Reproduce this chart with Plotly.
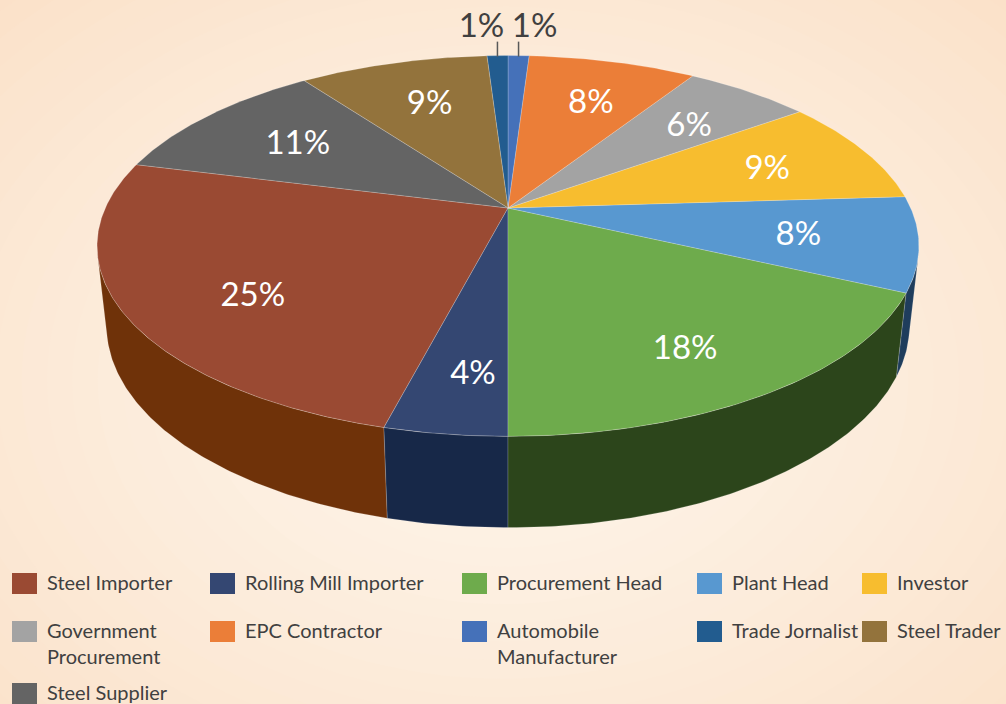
import numpy as np
import plotly.graph_objects as go

# ---------------- data ----------------
categories = ["Steel Importer", "Rolling Mill Importer", "Procurement Head", "Plant Head",
              "Investor", "Government Procurement", "EPC Contractor", "Automobile Manufacturer",
              "Trade Jornalist", "Steel Trader", "Steel Supplier"]
shares = [25, 4, 18, 8, 9, 6, 8, 1, 1, 9, 11]
legend_text = ["Steel Importer", "Rolling Mill Importer", "Procurement Head", "Plant Head",
               "Investor", "Government<br>Procurement", "EPC Contractor", "Automobile<br>Manufacturer",
               "Trade Jornalist", "Steel Trader", "Steel Supplier"]

# ---------------- styles ----------------
top_colors = ["#9A4A33", "#344772", "#6EAB4C", "#5898D0", "#F7BD2F", "#A3A3A3",
              "#EB7E38", "#4571B9", "#225C8F", "#93733C", "#646464"]
side_colors = ["#6F3209", "#172848", "#2C451B", "#1F3D5C", "#8A6A12", "#5A5A5A",
               "#8A4516", "#233F73", "#143552", "#5A4620", "#3A3A3A"]
FONT = "Lato"
TEXT_GREY = "#404040"

W, H = 1006, 704
# 3-D projection of the pie (pixel space)
CX, CY = 508.0, 208.0
FOCAL = 1800.0
CAM_DIST = 4.47
TILT = np.radians(27.0)
THICK = 0.224
ANCHOR_CAT = "Trade Jornalist"   # this slice starts at 12 o'clock
ANCHOR_ANGLE = 90.0
LABEL_R = 0.7
WALL_SHIFT = 0.18
LABEL_NUDGE = (6, 4)
OUTSIDE_BELOW = 3
LABEL_SIZE = 33

# legend grid
LEG_COL_X = [12, 210, 462, 697, 862]
LEG_ROW_Y = [583.5, 631.5, 693.5]
LEG_PER_ROW = 5
LEG_FONT = 20


def project(r, theta_deg, z=0.0):
    t = np.radians(theta_deg)
    u = r * np.cos(t)
    v = r * np.sin(t)
    depth = CAM_DIST + v * np.cos(TILT) - z * np.sin(TILT)
    x = CX + FOCAL * u / depth
    y = CY - FOCAL * (v * np.sin(TILT) + z * np.cos(TILT)) / depth
    return x, y


total = float(sum(shares))
spans = [360.0 * s / total for s in shares]
cum = np.concatenate([[0.0], np.cumsum(spans)])
offset = ANCHOR_ANGLE - cum[categories.index(ANCHOR_CAT)]
starts = offset + cum[:-1]
ends = offset + cum[1:]

sil = np.degrees(np.arcsin(1.0 / (CAM_DIST * np.cos(TILT))))
vis_lo, vis_hi = 180.0 + sil, 360.0 - sil


def visible_part(a0, a1):
    for k in (-720, -360, 0, 360):
        lo = max(a0, vis_lo + k)
        hi = min(a1, vis_hi + k)
        if hi > lo:
            return lo, hi
    return None


fig = go.Figure()

# ---- side walls ----
for i in range(len(categories)):
    part = visible_part(starts[i], ends[i])
    if part is None:
        continue
    lo, hi = part
    t = np.linspace(lo, hi, max(4, int((hi - lo) * 2)))
    xt, yt = project(1.0, t, 0.0)
    xb, yb = project(1.0, t[::-1], -THICK)
    fig.add_trace(go.Scatter(
        x=np.concatenate([xt, xb, xt[:1]]), y=np.concatenate([yt, yb, yt[:1]]),
        mode="lines", fill="toself", fillcolor=side_colors[i],
        line=dict(color="rgba(255,255,255,0.25)", width=0.7),
        hoverinfo="skip", showlegend=False))

# ---- top faces ----
for i in range(len(categories)):
    t = np.linspace(starts[i], ends[i], max(4, int(spans[i] * 2)))
    xa, ya = project(1.0, t, 0.0)
    x0, y0 = project(0.0, 0.0, 0.0)
    fig.add_trace(go.Scatter(
        x=np.concatenate([[x0], xa, [x0]]), y=np.concatenate([[y0], ya, [y0]]),
        mode="lines", fill="toself", fillcolor=top_colors[i],
        line=dict(color="rgba(255,255,255,0.3)", width=0.7),
        name=categories[i], hoverinfo="name", showlegend=False))

# ---- data labels ----
in_x, in_y, in_t = [], [], []
out_x, out_y, out_t = [], [], []
lead_x, lead_y = [], []
for i in range(len(categories)):
    mid = (starts[i] + ends[i]) / 2.0
    txt = f"{shares[i]}%"
    if shares[i] >= OUTSIDE_BELOW:
        x, y = project(LABEL_R, mid, 0.0)
        if visible_part(mid - 1e-6, mid + 1e-6) is not None:
            _, ytop = project(1.0, mid, 0.0)
            _, ybot = project(1.0, mid, -THICK)
            y += WALL_SHIFT * (ybot - ytop)
        in_x.append(x + LABEL_NUDGE[0]); in_y.append(y + LABEL_NUDGE[1]); in_t.append(txt)
    else:
        xr, yr = project(1.0, mid, 0.0)
        side = 1.0 if np.cos(np.radians(mid)) >= 0 else -1.0
        lead_x += [xr, xr, None]
        lead_y += [yr + 1, yr - 14, None]
        out_x.append(xr + side * 16); out_y.append(yr - 27); out_t.append(txt)

fig.add_trace(go.Scatter(x=lead_x, y=lead_y, mode="lines",
                         line=dict(color="#595959", width=1.5),
                         hoverinfo="skip", showlegend=False))
fig.add_trace(go.Scatter(x=in_x, y=in_y, text=in_t, mode="text",
                         textfont=dict(family=FONT, size=LABEL_SIZE, color="white"),
                         hoverinfo="skip", showlegend=False))
fig.add_trace(go.Scatter(x=out_x, y=out_y, text=out_t, mode="text",
                         textfont=dict(family=FONT, size=LABEL_SIZE, color=TEXT_GREY),
                         hoverinfo="skip", showlegend=False))

# ---- background radial gradient ----
shapes = []
outer = np.array([251, 225, 200])
inner = np.array([254, 246, 236])
GX, GY, RX, RY = 503.0, 380.0, 760.0, 560.0
steps = 30
for k in range(steps):
    tt = 1.0 - k / steps
    c = inner + (outer - inner) * tt ** 1.2
    shapes.append(dict(type="circle", xref="x", yref="y", layer="below",
                       x0=GX - RX * tt, x1=GX + RX * tt, y0=GY - RY * tt, y1=GY + RY * tt,
                       fillcolor="rgb(%d,%d,%d)" % tuple(c.astype(int)), line=dict(width=0)))

# ---- legend (grid of swatches + labels) ----
annotations = []
for i, lab in enumerate(legend_text):
    r, c = divmod(i, LEG_PER_ROW)
    x0 = LEG_COL_X[c]
    yc = LEG_ROW_Y[r]
    shapes.append(dict(type="rect", xref="x", yref="y", layer="above",
                       x0=x0, x1=x0 + 25, y0=yc - 10.5, y1=yc + 10.5,
                       fillcolor=top_colors[i], line=dict(width=0)))
    annotations.append(dict(x=x0 + 33, y=yc - 2 - 0.65 * LEG_FONT - 1, xref="x", yref="y",
                            text=lab, showarrow=False, xanchor="left", yanchor="top", align="left",
                            font=dict(family=FONT, size=LEG_FONT, color=TEXT_GREY)))

fig.update_layout(
    width=W, height=H, autosize=False,
    margin=dict(l=0, r=0, t=0, b=0),
    paper_bgcolor="rgb(%d,%d,%d)" % tuple(outer),
    plot_bgcolor="rgba(0,0,0,0)",
    xaxis=dict(range=[0, W], visible=False, fixedrange=True),
    yaxis=dict(range=[H, 0], visible=False, fixedrange=True),
    shapes=shapes, annotations=annotations, showlegend=False,
)

page_fix = ("document.body.style.margin='0';document.body.style.padding='0';"
            "document.body.style.overflow='hidden';"
            "document.body.style.background='rgb(%d,%d,%d)';" % tuple(outer))
fig.write_html("out.html", post_script=page_fix, config={"displayModeBar": False})
